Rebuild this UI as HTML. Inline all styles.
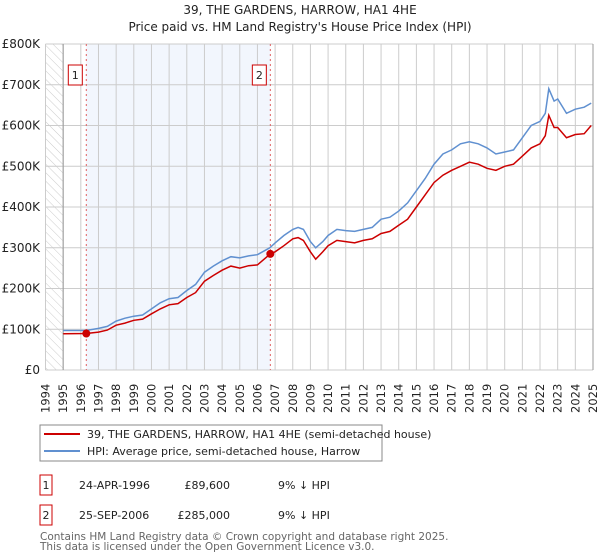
<!DOCTYPE html>
<html><head><meta charset="utf-8"><style>
body{margin:0;background:#fff;font-family:"DejaVu Sans","Liberation Sans",sans-serif;}
svg{display:block}
</style></head><body>
<svg width="600" height="560" xmlns="http://www.w3.org/2000/svg" font-family="DejaVu Sans, Liberation Sans, sans-serif">
<defs><pattern id="hatch" width="6" height="6" patternUnits="userSpaceOnUse" patternTransform="rotate(-45)"><line x1="0" y1="0" x2="0" y2="6" stroke="#ccc" stroke-width="1"/></pattern></defs>
<text x="300" y="14" text-anchor="middle" font-size="12" fill="#222">39, THE GARDENS, HARROW, HA1 4HE</text>
<text x="300" y="31" text-anchor="middle" font-size="12" fill="#222">Price paid vs. HM Land Registry's House Price Index (HPI)</text>
<g id="plot"></g>
<rect x="40" y="425" width="342" height="36" fill="#fff" stroke="#888"/>
<line x1="44" y1="434" x2="80" y2="434" stroke="#cc0000" stroke-width="2"/>
<text x="87" y="438" font-size="11" fill="#222">39, THE GARDENS, HARROW, HA1 4HE (semi-detached house)</text>
<line x1="44" y1="451" x2="80" y2="451" stroke="#6090d0" stroke-width="2"/>
<text x="87" y="455" font-size="11" fill="#222">HPI: Average price, semi-detached house, Harrow</text>
<g font-size="11" fill="#222">
<rect x="40" y="475" width="12" height="20" fill="#fff" stroke="#cc0000"/>
<text x="46" y="489" text-anchor="middle">1</text>
<text x="79" y="489">24-APR-1996</text>
<text x="230" y="489" text-anchor="end">£89,600</text>
<text x="278" y="489">9% ↓ HPI</text>
<rect x="40" y="505" width="12" height="20" fill="#fff" stroke="#cc0000"/>
<text x="46" y="519" text-anchor="middle">2</text>
<text x="79" y="519">25-SEP-2006</text>
<text x="230" y="519" text-anchor="end">£285,000</text>
<text x="278" y="519">9% ↓ HPI</text>
</g>
<text x="40" y="540" font-size="10.5" fill="#666">Contains HM Land Registry data © Crown copyright and database right 2025.</text>
<text x="40" y="550" font-size="10.5" fill="#666">This data is licensed under the Open Government Licence v3.0.</text>
</svg>
<script>
const yTicks=[0,100,200,300,400,500,600,700,800];
const yTickLabels=["£0","£100K","£200K","£300K","£400K","£500K","£600K","£700K","£800K"];
const years=[1994,1995,1996,1997,1998,1999,2000,2001,2002,2003,2004,2005,2006,2007,2008,2009,2010,2011,2012,2013,2014,2015,2016,2017,2018,2019,2020,2021,2022,2023,2024,2025];
const hpiT=[1995,1996.3,1997,1997.5,1998,1998.5,1999,1999.5,2000,2000.5,2001,2001.5,2002,2002.5,2003,2003.5,2004,2004.5,2005,2005.5,2006,2006.7,2007,2007.5,2008,2008.3,2008.6,2009,2009.3,2009.7,2010,2010.5,2011,2011.5,2012,2012.5,2013,2013.5,2014,2014.5,2015,2015.5,2016,2016.5,2017,2017.5,2018,2018.5,2019,2019.5,2020,2020.5,2021,2021.5,2022,2022.3,2022.5,2022.8,2023,2023.5,2024,2024.5,2024.9];
const hpiV=[97,97,102,107,120,127,132,135,150,165,175,178,195,210,240,255,268,278,275,280,283,300,312,330,345,350,345,315,300,315,330,345,342,340,345,350,370,375,390,410,440,470,505,530,540,555,560,555,545,530,535,540,570,600,610,630,690,660,665,630,640,645,655];
const priceT=[1995,1996.31,1997,1997.5,1998,1998.5,1999,1999.5,2000,2000.5,2001,2001.5,2002,2002.5,2003,2003.5,2004,2004.5,2005,2005.5,2006,2006.73,2007,2007.5,2008,2008.3,2008.6,2009,2009.3,2009.7,2010,2010.5,2011,2011.5,2012,2012.5,2013,2013.5,2014,2014.5,2015,2015.5,2016,2016.5,2017,2017.5,2018,2018.5,2019,2019.5,2020,2020.5,2021,2021.5,2022,2022.3,2022.5,2022.8,2023,2023.5,2024,2024.5,2024.9];
const priceV=[89,89.6,93,98,110,115,122,125,138,150,160,163,178,190,218,232,245,255,250,256,258,285,290,305,322,325,318,290,272,290,305,318,315,312,318,322,335,340,355,370,400,430,460,478,490,500,510,505,495,490,500,505,525,545,555,575,625,595,595,570,578,580,600];
const saleT=[1996.31,2006.73];
const saleV=[89.6,285];
const saleLabels=["1","2"];

const X0=45.5,X1=593,Y0=370,Y1=44;
const x=t=>X0+(t-1994)*(X1-X0)/31;
const y=v=>Y0-v*(Y0-Y1)/800;
const NS="http://www.w3.org/2000/svg";
const plot=document.getElementById('plot');
function mk(tag,attrs,parent){const e=document.createElementNS(NS,tag);for(const k in attrs)e.setAttribute(k,attrs[k]);(parent||plot).appendChild(e);return e;}

let e;
e=mk('rect',{x:x(1994),y:Y1,width:x(1995)-x(1994),height:Y0-Y1,fill:'url(#hatch)'});


e=mk('rect',{x:x(saleT[0]),y:Y1,width:x(saleT[1])-x(saleT[0]),height:Y0-Y1,fill:'#f2f6fd'});


years.forEach(yr=>{
  e=mk('line',{x1:x(yr),x2:x(yr),y1:Y1,y2:Y0,stroke:'#ccc','stroke-width':1});
  
  
  e=mk('text',{x:0,y:0,transform:`translate(${x(yr)+4},${413}) rotate(-90)`,'font-size':11.5,fill:'#222'});
  e.textContent=yr;
  
  
});
yTicks.forEach((v,i)=>{
  e=mk('line',{x1:X0,x2:X1,y1:y(v),y2:y(v),stroke:'#ccc','stroke-width':1});
  
  
  e=mk('text',{x:40,y:y(v)+4,'text-anchor':'end','font-size':12,fill:'#222'});
  e.textContent=yTickLabels[i];
  
  
});
e=mk('line',{x1:x(1995),x2:x(1995),y1:Y1,y2:Y0,stroke:'#999'});


e=mk('line',{x1:X1,x2:X1,y1:Y1,y2:Y0,stroke:'#999'});


saleT.forEach((t,i)=>{
  e=mk('line',{x1:x(t),x2:x(t),y1:Y1,y2:Y0,stroke:'#e06060','stroke-dasharray':'2,3','stroke-width':1});
  
  
  e=mk('rect',{x:x(t)-18,y:65,width:14,height:20,fill:'#fff',stroke:'#cc0000'});
  
  
  e=mk('text',{x:x(t)-11,y:79,'text-anchor':'middle','font-size':11,fill:'#222'});
  e.textContent=saleLabels[i];
  
  
});
e=mk('path',{d:hpiT.map((t,i)=>(i?'L':'M')+x(t).toFixed(1)+','+y(hpiV[i]).toFixed(1)).join(''),fill:'none',stroke:'#6090d0','stroke-width':1.5});


e=mk('path',{d:priceT.map((t,i)=>(i?'L':'M')+x(t).toFixed(1)+','+y(priceV[i]).toFixed(1)).join(''),fill:'none',stroke:'#cc0000','stroke-width':1.5});


saleT.forEach((t,i)=>{
  e=mk('circle',{cx:x(t),cy:y(saleV[i]),r:4,fill:'#cc0000'});
  
  
});
</script>
</body></html>
